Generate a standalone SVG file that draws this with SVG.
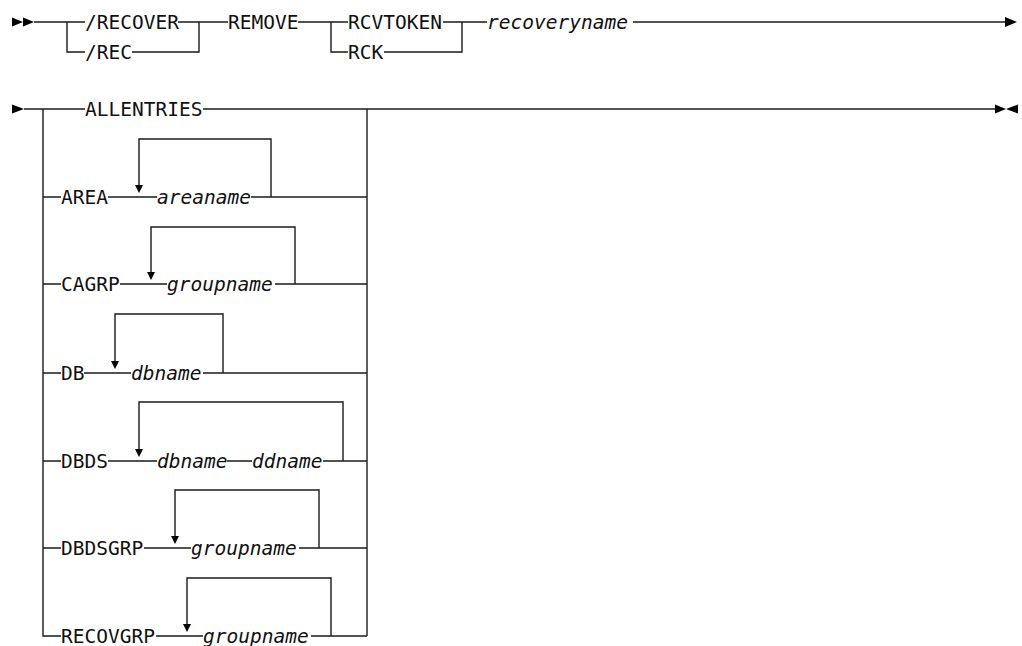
<svg xmlns="http://www.w3.org/2000/svg" width="1022" height="646" viewBox="0 0 1022 646">
<style>
  .ln{fill:none;stroke:#1a1a1a;stroke-width:1.4}
  .ah{fill:#000;stroke:none}
  text{font-family:"DejaVu Sans Mono","Liberation Mono",monospace;font-size:19.5px;fill:#111}
  .v{font-style:italic}
</style>
<rect width="1022" height="646" fill="#fff"/>
<g id="connectors">
  <polygon class="ah" points="12,17.5 23,22 12,26.5"/>
  <polygon class="ah" points="23,17.5 34,22 23,26.5"/>
  <path class="ln" d="M34,22 H85 M67,22 V52 H85"/>
  <path class="ln" d="M178,22 H228 M132,52 H199 V22"/>
  <path class="ln" d="M298,22 H348 M331,22 V52 H348"/>
  <path class="ln" d="M443,22 H487 M384,52 H462 V22"/>
  <path class="ln" d="M633,22 H1006"/>
  <polygon class="ah" points="1005,17 1017,22 1005,27"/>
  <polygon class="ah" points="12,104.5 24,109 12,113.5"/>
  <path class="ln" d="M24,109 H85 M43,109 V636 H61"/>
  <path class="ln" d="M203,109 H995"/>
  <path class="ln" d="M367,109 V636"/>
  <polygon class="ah" points="995,104.5 1006,109 995,113.5"/>
  <polygon class="ah" points="1018,104.5 1006,109 1018,113.5"/>
  <path class="ln" d="M43,197 H61 M108,197 H157 M251,197 H367 M271,197 V139 H139 V186"/>
  <polygon class="ah" points="135,185 143,185 139,193"/>
  <path class="ln" d="M43,284 H61 M120,284 H167 M275,284 H367 M295,284 V227 H151 V273"/>
  <polygon class="ah" points="147,272 155,272 151,280"/>
  <path class="ln" d="M43,373 H61 M84,373 H131 M203,373 H367 M223,373 V314 H115 V362"/>
  <polygon class="ah" points="111,361 119,361 115,369"/>
  <path class="ln" d="M43,461 H61 M108,461 H157 M227,461 H252 M323,461 H367 M343,461 V402 H139 V450"/>
  <polygon class="ah" points="135,449 143,449 139,457"/>
  <path class="ln" d="M43,548 H61 M144,548 H191 M299,548 H367 M319,548 V490 H175 V537"/>
  <polygon class="ah" points="171,536 179,536 175,544"/>
  <path class="ln" d="M156,636 H203 M311,636 H367 M331,636 V578 H187 V625"/>
  <polygon class="ah" points="183,624 191,624 187,632"/>
</g>
<g id="n-recover"><text x="85" y="29">/RECOVER</text></g>
<g id="n-rec"><text x="85" y="59">/REC</text></g>
<g id="n-remove"><text x="228" y="29">REMOVE</text></g>
<g id="n-rcvtoken"><text x="348" y="29">RCVTOKEN</text></g>
<g id="n-rck"><text x="348" y="59">RCK</text></g>
<g id="n-recoveryname"><text class="v" x="487" y="29">recoveryname</text></g>
<g id="n-allentries"><text x="85" y="116">ALLENTRIES</text></g>
<g id="n-area"><text x="61" y="204">AREA</text></g>
<g id="n-areaname"><text class="v" x="157" y="204">areaname</text></g>
<g id="n-cagrp"><text x="61" y="291">CAGRP</text></g>
<g id="n-cagrp-groupname"><text class="v" x="167" y="291">groupname</text></g>
<g id="n-db"><text x="61" y="380">DB</text></g>
<g id="n-db-dbname"><text class="v" x="131" y="380">dbname</text></g>
<g id="n-dbds"><text x="61" y="468">DBDS</text></g>
<g id="n-dbds-dbname"><text class="v" x="157" y="468">dbname</text></g>
<g id="n-dbds-ddname"><text class="v" x="252" y="468">ddname</text></g>
<g id="n-dbdsgrp"><text x="61" y="555">DBDSGRP</text></g>
<g id="n-dbdsgrp-groupname"><text class="v" x="191" y="555">groupname</text></g>
<g id="n-recovgrp"><text x="61" y="643">RECOVGRP</text></g>
<g id="n-recovgrp-groupname"><text class="v" x="203" y="643">groupname</text></g>
</svg>
